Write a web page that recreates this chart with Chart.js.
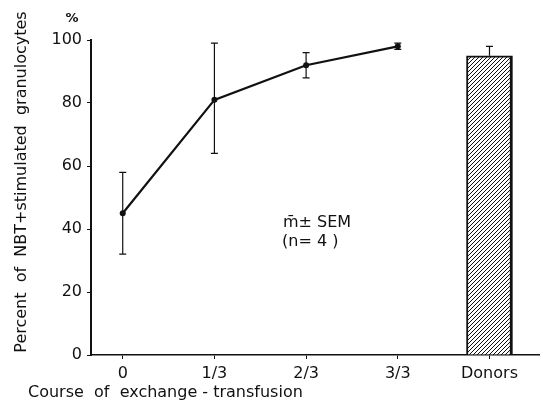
<!DOCTYPE html>
<html>
<head>
<meta charset="utf-8">
<script src="https://cdn.jsdelivr.net/npm/chart.js@4.4.0/dist/chart.umd.min.js"></script>
<style>
  html, body { margin: 0; padding: 0; background: #fff; overflow: hidden; }
  #wrap { width: 543px; height: 406px; }
</style>
</head>
<body>
<div id="wrap"><canvas id="nbtChart"></canvas></div>
<script>
// values
const categories = ["0", "1/3", "2/3", "3/3", "Donors"];
const nbtMean = [45, 81, 92, 98];
const nbtLow = [32, 64, 88, 97];
const nbtHigh = [58, 99, 96, 99];
const donorMean = [95];
const donorHigh = [98];
const yTicks = [0, 20, 40, 60, 80, 100];

const FONT = "DejaVu Sans";
const INK = "#111";

// diagonal hatch for the donors bar
function hatch() {
  const c = document.createElement("canvas");
  c.width = 4;
  c.height = 4;
  const g = c.getContext("2d");
  g.fillStyle = "#fff";
  g.fillRect(0, 0, 4, 4);
  g.strokeStyle = INK;
  g.lineWidth = 1;
  g.beginPath();
  g.moveTo(-1, 5);
  g.lineTo(5, -1);
  g.moveTo(-1, 1);
  g.lineTo(1, -1);
  g.moveTo(3, 5);
  g.lineTo(5, 3);
  g.stroke();
  return g.createPattern(c, "repeat");
}

const errorBars = {
  id: "errorBars",
  afterDatasetsDraw(chart) {
    const { ctx, scales: { x, y } } = chart;
    ctx.save();
    ctx.strokeStyle = INK;
    ctx.lineWidth = 1.2;
    const cap = 3.5;
    nbtMean.forEach((m, i) => {
      const px = x.getPixelForValue(i);
      const top = y.getPixelForValue(nbtHigh[i]);
      const bot = y.getPixelForValue(nbtLow[i]);
      ctx.beginPath();
      ctx.moveTo(px, top);
      ctx.lineTo(px, bot);
      ctx.moveTo(px - cap, top);
      ctx.lineTo(px + cap, top);
      ctx.moveTo(px - cap, bot);
      ctx.lineTo(px + cap, bot);
      ctx.stroke();
    });
    // donors: upper whisker only
    donorMean.forEach((m, i) => {
      const px = x.getPixelForValue(nbtMean.length + i);
      const top = y.getPixelForValue(donorHigh[i]);
      const base = y.getPixelForValue(m);
      ctx.beginPath();
      ctx.moveTo(px, base);
      ctx.lineTo(px, top);
      ctx.moveTo(px - cap, top);
      ctx.lineTo(px + cap, top);
      ctx.stroke();
    });
    ctx.restore();
  },
};

const labels = {
  id: "labels",
  afterDraw(chart) {
    const { ctx } = chart;
    ctx.save();
    ctx.fillStyle = INK;
    ctx.font = `16px "${FONT}"`;
    ctx.textBaseline = "middle";

    ctx.textAlign = "left";
    ctx.fillText("Course  of  exchange - transfusion", 28, 393);

    ctx.save();
    ctx.translate(22, 182);
    ctx.rotate(-Math.PI / 2);
    ctx.textAlign = "center";
    ctx.fillText("Percent  of  NBT+stimulated  granulocytes", 0, 0);
    ctx.restore();

    ctx.font = `bold 13px "${FONT}"`;
    ctx.textAlign = "center";
    ctx.fillText("%", 72, 19);

    ctx.font = `16px "${FONT}"`;
    ctx.textAlign = "left";
    ctx.fillText("m\u0304\u00b1 SEM", 283, 223);
    ctx.fillText("(n= 4 )", 282, 242);
    ctx.restore();
  },
};

new Chart(document.getElementById("nbtChart").getContext("2d"), {
  plugins: [errorBars, labels],
  data: {
    datasets: [
      {
        type: "line",
        data: nbtMean.map((v, i) => ({ x: i, y: v })),
        borderColor: INK,
        borderWidth: 2.2,
        pointRadius: 3,
        pointBackgroundColor: INK,
        pointBorderWidth: 0,
        tension: 0,
      },
      {
        type: "bar",
        data: donorMean.map((v, i) => ({ x: nbtMean.length + i, y: v })),
        backgroundColor: hatch(),
        borderColor: INK,
        borderWidth: { left: 2, right: 3, top: 2, bottom: 0 },
        borderSkipped: false,
        barThickness: 46,
      },
    ],
  },
  options: {
    animation: false,
    responsive: true,
    maintainAspectRatio: false,
    layout: { padding: { top: 40, right: 0, left: 0, bottom: 0 } },
    plugins: {
      legend: { display: false },
      tooltip: { enabled: false },
    },
    scales: {
      x: {
        type: "linear",
        offset: false,
        min: -0.346,
        max: 4.54,
        afterFit(scale) {
          scale.height = 51;
          scale.paddingRight = 0;
        },
        afterBuildTicks(scale) {
          scale.ticks = categories.map((c, i) => ({ value: i }));
        },
        grid: {
          offset: false,
          drawOnChartArea: false,
          drawTicks: true,
          tickLength: 4,
          color: INK,
          tickWidth: 1,
        },
        border: { display: true, color: INK, width: 1.5 },
        ticks: {
          color: INK,
          font: { family: FONT, size: 16 },
          padding: 5,
          maxRotation: 0,
          autoSkip: false,
          callback: (v) => categories[v],
        },
      },
      y: {
        min: 0,
        max: 100,
        afterFit(scale) {
          scale.width = 91;
        },
        afterBuildTicks(scale) {
          scale.ticks = yTicks.map((v) => ({ value: v }));
        },
        grid: {
          drawOnChartArea: false,
          drawTicks: true,
          tickLength: 4,
          color: INK,
          tickWidth: 1,
        },
        border: { display: true, color: INK, width: 2 },
        ticks: {
          color: INK,
          font: { family: FONT, size: 16 },
          padding: 5,
        },
      },
    },
  },
});
</script>
</body>
</html>
